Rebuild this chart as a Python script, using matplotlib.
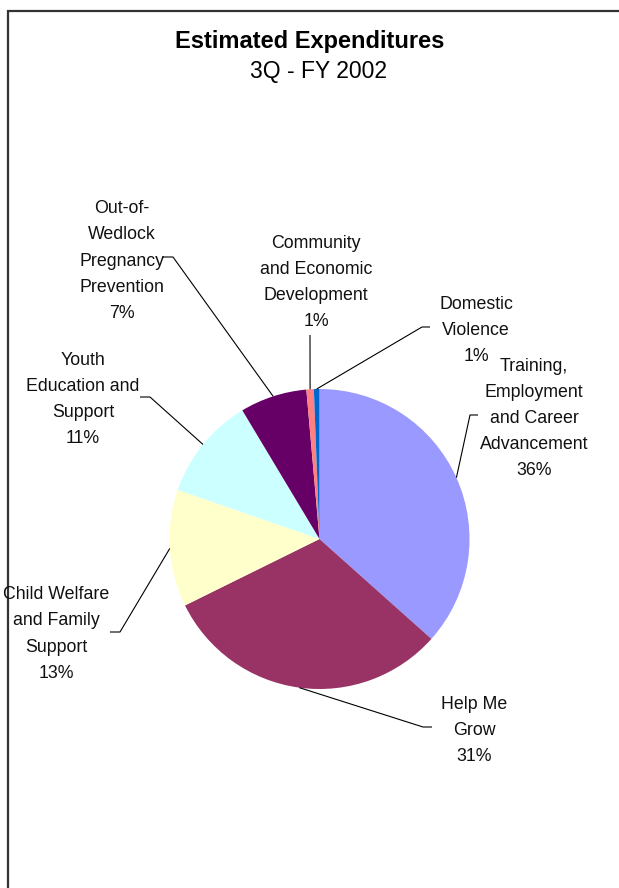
import numpy as np
import matplotlib
matplotlib.use("Agg")
import matplotlib.pyplot as plt
from matplotlib.patches import Rectangle

# ---- data ----
categories = [
    "Training,\nEmployment\nand Career\nAdvancement",
    "Help Me\nGrow",
    "Child Welfare\nand Family\nSupport",
    "Youth\nEducation and\nSupport",
    "Out-of-\nWedlock\nPregnancy\nPrevention",
    "Community\nand Economic\nDevelopment",
    "Domestic\nViolence",
]
values = [36.6, 31.1, 12.6, 11.1, 7.2, 0.8, 0.6]
pct_labels = ["36%", "31%", "13%", "11%", "7%", "1%", "1%"]
colors = ["#9999FF", "#993366", "#FFFFCC", "#CCFFFF", "#660066", "#FF8080", "#0066CC"]

title = "Estimated Expenditures"
subtitle = "3Q - FY 2002"

# ---- layout (pixel coords, y measured from top) ----
W, H = 619, 888
def P(x, y):
    return x, H - y

pie_center = (319.5, 539)
pie_radius = 150
line_step = 26.2

# (x centre, baseline of the middle line)
label_pos = [(534, 423), (474, 735), (56, 638.5), (83, 404), (122, 265.5), (316, 287), (476, 335)]
leader_pts = [
    [(478, 415), (470, 415)],
    [(432, 727), (423, 727)],
    [(110, 632), (120, 632)],
    [(140, 397), (150, 397)],
    [(163, 257), (173, 257)],
    [(310, 335)],
    [(430, 327), (422, 327)],
]

plt.rcParams['font.family'] = ['Liberation Sans', 'DejaVu Sans']

fig = plt.figure(figsize=(W / 100, H / 100), dpi=100)
ax = fig.add_axes([0, 0, 1, 1])

wedges, _ = ax.pie(values, colors=colors, startangle=90, counterclock=False,
                   center=P(*pie_center), radius=pie_radius,
                   wedgeprops=dict(linewidth=0, edgecolor="none"))
ax.set_xlim(0, W)
ax.set_ylim(0, H)
ax.set_aspect("auto")
ax.axis("off")

# chart area clip (text is cut at the chart's left border)
clip_rect = Rectangle((8.5, -10), W + 20, H - 11.5 + 10, transform=ax.transData,
                      facecolor="none", edgecolor="none")
ax.add_patch(clip_rect)

cx, cy = P(*pie_center)
for w, cat, pct, lp, pts in zip(wedges, categories, pct_labels, label_pos, leader_pts):
    ang = np.deg2rad((w.theta1 + w.theta2) / 2)
    ex = cx + pie_radius * np.cos(ang)
    ey = cy + pie_radius * np.sin(ang)
    xs = [P(*p)[0] for p in pts] + [ex]
    ys = [P(*p)[1] for p in pts] + [ey]
    ax.plot(xs, ys, color="black", lw=0.8, solid_capstyle="butt")
    lines = (cat + "\n" + pct).split("\n")
    n = len(lines)
    for i, ln in enumerate(lines):
        yb = lp[1] + (i - (n - 1) / 2) * line_step
        t = ax.text(*P(lp[0], yb), ln, ha="center", va="baseline",
                    fontsize=12.8, color="#111111")
        t.set_clip_path(clip_rect)

ax.text(*P(310, 42), title, ha="center", va="center", fontsize=17, fontweight="bold")
ax.text(*P(319, 72), subtitle, ha="center", va="center", fontsize=16.5)

# chart border (extends beyond right/bottom of image)
ax.plot([7.5, 7.5, W + 5], [-5, H - 11.5, H - 11.5], color="#333333", lw=1.6,
        solid_joinstyle="miter")

fig.savefig("out.png", dpi=100)
